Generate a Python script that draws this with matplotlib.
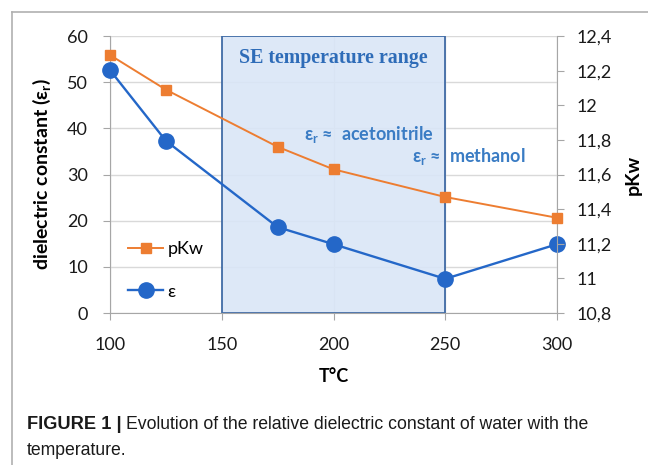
import matplotlib
matplotlib.use("Agg")
import matplotlib.pyplot as plt
from matplotlib.lines import Line2D
from matplotlib.patches import Rectangle

# data
temps = [100, 125, 175, 200, 250, 300]
eps = [52.6, 37.3, 18.6, 14.9, 7.4, 14.9]
pkw = [12.29, 12.09, 11.76, 11.63, 11.47, 11.35]

left_ticks = [0, 10, 20, 30, 40, 50, 60]
right_ticks = [10.8, 11.0, 11.2, 11.4, 11.6, 11.8, 12.0, 12.2, 12.4]
right_labels = ["10,8", "11", "11,2", "11,4", "11,6", "11,8", "12", "12,2", "12,4"]
x_ticks = [100, 150, 200, 250, 300]
se_range = (150, 250)

ORANGE = "#ed7d31"
BLUE = "#2467c8"
TEXT_BLUE = "#3a7cc4"
AXIS_GRAY = "#a6a6a6"
GRID_GRAY = "#d9d9d9"
CAPTION_FONT = ["Liberation Sans", "DejaVu Sans"]

plt.rcParams["font.family"] = ["Lato", "DejaVu Sans"]


def fit_width(fig, txt, target_px):
    """Rescale a text so its drawn width is target_px."""
    fig.canvas.draw()
    w = txt.get_window_extent().width
    size = txt.get_fontsize() * target_px / w
    txt.set_fontsize(size)
    return size


def main():
    fig = plt.figure(figsize=(6.48, 4.65), dpi=100)
    ax = fig.add_axes([110 / 648, 1 - 313 / 465, 447 / 648, 277 / 465])

    # outer frame of the figure panel
    fig.add_artist(Line2D([12 / 648, 12 / 648], [0, 1 - 12 / 465],
                          transform=fig.transFigure, color="#b0b0b0", lw=1.2))
    fig.add_artist(Line2D([12 / 648, 1], [1 - 12 / 465, 1 - 12 / 465],
                          transform=fig.transFigure, color="#b0b0b0", lw=1.2))

    ax.set_xlim(100, 300)
    ax.set_ylim(0, 60)
    ax.set_xticks(x_ticks)
    ax.set_yticks(left_ticks)
    ax.grid(True, color=GRID_GRAY, lw=1.0)
    ax.set_axisbelow(True)

    ax.add_patch(Rectangle((se_range[0], 0), se_range[1] - se_range[0], 60,
                           facecolor="#dae6f7", edgecolor="#2f5e9e", lw=1.3,
                           alpha=0.9, zorder=1.5))

    for side in ["top", "right"]:
        ax.spines[side].set_visible(False)
    for side in ["left", "bottom"]:
        ax.spines[side].set_color(AXIS_GRAY)
    ax.tick_params(direction="out", length=5, color=AXIS_GRAY,
                   labelsize=13, labelcolor="#1a1a1a")
    ax.tick_params(axis="y", pad=11)
    ax.tick_params(axis="x", pad=12)

    ax2 = ax.twinx()
    ax2.set_ylim(10.8, 12.4)
    ax2.set_yticks(right_ticks)
    ax2.set_yticklabels(right_labels)
    for side in ["top", "left", "bottom"]:
        ax2.spines[side].set_visible(False)
    ax2.spines["right"].set_color(AXIS_GRAY)
    ax2.tick_params(direction="out", length=5, color=AXIS_GRAY,
                    labelsize=13, labelcolor="#1a1a1a", pad=9)

    l_eps, = ax.plot(temps, eps, color=BLUE, lw=1.7, marker="o",
                     markersize=11, zorder=4, clip_on=False, label="ε")
    l_pkw, = ax2.plot(temps, pkw, color=ORANGE, lw=1.4, marker="s",
                      markersize=6.5, zorder=4, clip_on=False, label="pKw")

    ax.set_xlabel("T°C", fontsize=13, fontweight="bold", labelpad=11)
    ax.set_ylabel("dielectric constant (ε$_\\mathregular{r}$)", fontsize=14,
                  fontweight="bold", labelpad=10)
    ax2.set_ylabel("pKw", fontsize=14, fontweight="bold", labelpad=9)

    ax.text(200, 55.2, "SE temperature range", family="Liberation Serif",
            fontsize=14.4, fontweight="bold", color="#2e6cb8",
            ha="center", va="center", zorder=5)
    ax.text(187, 38.6, "ε$_\\mathregular{r}$ ≈  acetonitrile", fontsize=13,
            fontweight="bold", color=TEXT_BLUE, ha="left", va="center", zorder=5)
    ax.text(235, 33.8, "ε$_\\mathregular{r}$ ≈  methanol", fontsize=13,
            fontweight="bold", color=TEXT_BLUE, ha="left", va="center", zorder=5)

    leg = ax.legend([l_pkw, l_eps], ["pKw", "ε"], loc="lower left",
                    bbox_to_anchor=(0.005, -0.01), frameon=False, fontsize=13,
                    handlelength=1.9, handletextpad=0.25, labelspacing=1.45)
    leg.set_zorder(6)

    # caption: bold lead, regular text fitted to the reference width
    cap_y = 1 - 424 / 465
    lead = fig.text(27 / 648, cap_y, "FIGURE 1 |", fontsize=12, fontweight="bold",
                    family=CAPTION_FONT, va="center", color="#1a1a1a")
    fit_width(fig, lead, 94)
    body = fig.text(126 / 648, cap_y,
                    "Evolution of the relative dielectric constant of water with the",
                    fontsize=11, family=CAPTION_FONT, va="center", color="#1a1a1a")
    size = fit_width(fig, body, 463)
    fig.text(27 / 648, 1 - 450 / 465, "temperature.", fontsize=size,
             family=CAPTION_FONT, va="center", color="#1a1a1a")

    fig.savefig("out.png", dpi=100)


if __name__ == '__main__':
    main()
